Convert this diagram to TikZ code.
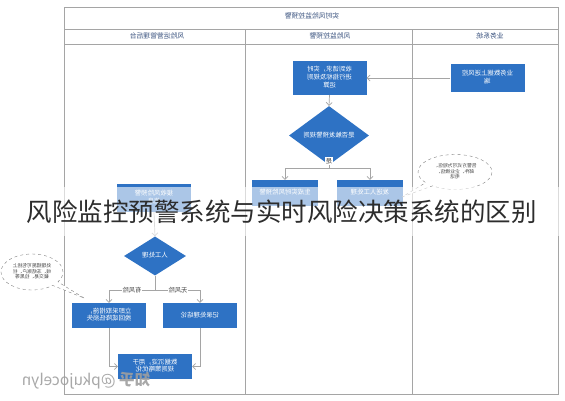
\documentclass[tikz,border=0pt]{standalone}
\usepackage{fontspec}
\usepackage{graphicx}
\newfontfamily\cjk{Noto Sans CJK SC}
\usetikzlibrary{shapes.geometric,shapes.callouts,arrows.meta}
\definecolor{boxblue}{RGB}{46,114,196}
\definecolor{linegray}{RGB}{165,165,165}
\definecolor{hdrtext}{RGB}{55,80,125}
\definecolor{titletext}{RGB}{45,45,45}
\newcommand{\mtxt}[1]{\reflectbox{\begin{tabular}{@{}c@{}}#1\end{tabular}}}
\begin{document}
\begin{tikzpicture}[x=1pt,y=-1pt,
  font=\cjk\fontsize{6.4}{7.6}\selectfont,
  bluebox/.style={rectangle, fill=boxblue, text=white, minimum width=74pt, inner sep=1pt},
  bluediamond/.style={diamond, fill=boxblue, text=white, inner sep=0pt},
  conn/.style={draw=linegray, line width=0.7pt, -{Straight Barb[length=3pt,width=6pt]}},
  plainline/.style={draw=linegray, line width=0.7pt},
  frameline/.style={draw=linegray, line width=0.8pt},
  hdr/.style={text=hdrtext, font=\cjk\fontsize{6.8}{7.8}\selectfont},
  lbl/.style={fill=white, text=darkgray, inner sep=1pt, font=\cjk\fontsize{6.2}{7}\selectfont},
  bubble/.style={ellipse callout, draw=gray, dashed, fill=white, text=darkgray, inner sep=0pt, font=\cjk\fontsize{4.8}{5.8}\selectfont},
]
\useasboundingbox (0,0) rectangle (565,400);
\fill[white] (0,0) rectangle (565,400);

% table frame
\draw[frameline] (64,7) rectangle (558,394);
\draw[frameline] (64,29) -- (558,29);
\draw[frameline] (64,44) -- (558,44);
\draw[frameline] (245,29) -- (245,394);
\draw[frameline] (412,29) -- (412,394);

\node[hdr] (ttl) at (312,17) {\mtxt{实时风险监控预警}};
\node[hdr] (h1) at (157,36.5) {\mtxt{风险运营管理后台}};
\node[hdr] (h2) at (330,36.5) {\mtxt{风险监控预警}};
\node[hdr] (h3) at (490,36.5) {\mtxt{业务系统}};

% business system
\node[bluebox, minimum height=28pt] (biz) at (487.5,78) {\mtxt{业务数据上送风控\\端}};

% monitoring column
\node[bluebox, minimum height=34pt] (req) at (329.5,78) {\mtxt{收到请求，实时\\进行指标及规则\\运算}};
\node[bluediamond, minimum width=80pt, minimum height=43pt] (chk) at (329,135.5) {\mtxt{是否触发预警规则}};
\coordinate (split1) at (329,168);
\node[bluebox, minimum width=66pt, minimum height=26pt] (mwarn) at (285,193) {\mtxt{生成实时风险预警}};
\node[bluebox, minimum width=66pt, minimum height=26pt] (mman) at (370,193) {\mtxt{发送人工处理}};

\draw[conn] (biz.west) -- (req.east);
\draw[conn] (req.south) -- (chk.north);
\draw[plainline] (chk.south) -- (split1);
\draw[conn] (split1) -| (mwarn.north);
\draw[conn] (split1) -| (mman.north);
\node[lbl] (yes) at (329,161) {\reflectbox{是}};

% right callout
\coordinate (cptr1) at (402,197);
\node[bubble, minimum width=74pt, minimum height=35pt, callout absolute pointer={(cptr1)}] (call1) at (455,172) {\mtxt{告警方式可为短信、\\邮件、企业微信、\\电话}};

% back office column
\node[bluebox, minimum height=28pt] (lwarn) at (154,198) {\mtxt{接收风险预警\\信息}};
\node[bluediamond, minimum width=62pt, minimum height=39pt] (ldec) at (155,256) {\mtxt{人工处理}};
\coordinate (split2) at (155,290);
\node[bluebox, minimum height=25pt] (lact) at (109,315.5) {\mtxt{立即采取措施，\\挽回或降低损失}};
\node[bluebox, minimum height=25pt] (lrec) at (200,315.5) {\mtxt{记录处理结论}};
\node[bluebox, minimum height=25pt] (ldata) at (155,366.5) {\mtxt{数据沉淀，用于\\规则策略优化}};

\draw[conn] (lwarn.south) -- (ldec.north);
\draw[plainline] (ldec.south) -- (split2);
\draw[conn] (split2) -| (lact.north);
\draw[conn] (split2) -| (lrec.north);
\node[lbl] (risk) at (132,290) {\reflectbox{有风险}};
\node[lbl] (norisk) at (178,290) {\reflectbox{无风险}};
\draw[conn] (lact.south) |- (ldata.west);
\draw[conn] (lrec.south) |- (ldata.east);

% left callout
\coordinate (cptr2) at (84,298);
\node[bubble, minimum width=62pt, minimum height=36pt, callout absolute pointer={(cptr2)}] (call2) at (32,272) {\mtxt{处理措施可包括上\\线、冻结账户、拦\\截交易、拉黑等}};

% watermark
\node[text=gray!75, opacity=0.9, font=\cjk\fontsize{15.5}{17}\selectfont] (wm) at (86,381) {\reflectbox{{\bfseries 知乎} @pkujocelyn}};

% overlay band and title
\fill[white, opacity=0.6] (0,187) rectangle (565,236);
\node[text=titletext, font=\cjk\fontsize{25.5}{28}\selectfont, inner sep=0pt] (bigtitle) at (282,212) {风险监控预警系统与实时风险决策系统的区别};
\end{tikzpicture}
\end{document}
